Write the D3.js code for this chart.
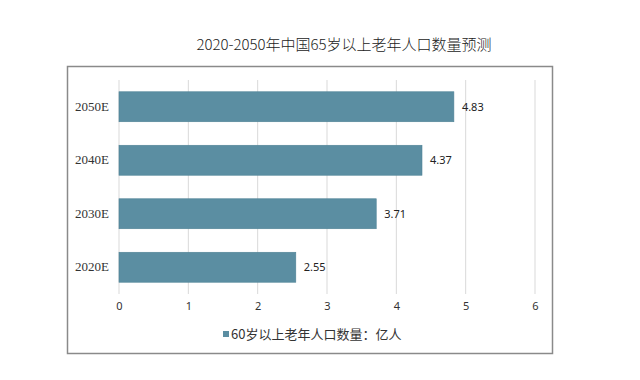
<!DOCTYPE html>
<html>
<head>
<meta charset="utf-8">
<script src="https://cdn.jsdelivr.net/npm/d3@7/dist/d3.min.js"></script>
<style>
  body { margin: 0; background: #fff; }
  svg { display: block; }
</style>
</head>
<body>
<script>
var categories = ['2050E', '2040E', '2030E', '2020E'];
var values = [4.83, 4.37, 3.71, 2.55];
var xTicks = [0, 1, 2, 3, 4, 5, 6];
var titleText = '2020-2050年中国65岁以上老年人口数量预测';
var legendText = '60岁以上老年人口数量：亿人';

var w = 640, h = 380;
var barColor = '#5b8ea2';

var svg = d3.select('body')
  .append('svg')
  .attr('width', w)
  .attr('height', h);

// outer frame
svg.append('rect')
  .attr('x', 67.5)
  .attr('y', 66.5)
  .attr('width', 485)
  .attr('height', 287)
  .attr('fill', 'none')
  .attr('stroke', '#8a8a8a')
  .attr('stroke-width', 1.5);

svg.append('text')
  .attr('x', 344)
  .attr('y', 50)
  .attr('text-anchor', 'middle')
  .attr('font-family', '"Noto Sans CJK SC", sans-serif')
  .attr('font-size', '15px')
  .attr('font-weight', 300)
  .attr('fill', '#222')
  .text(titleText);

var x = d3.scaleLinear().domain([0, 6]).range([119, 535]);
var y = d3.scaleBand().domain(categories).range([80, 294]).paddingInner(0.44).paddingOuter(0.22);

// vertical gridlines
svg.selectAll('line.grid').data(xTicks)
  .enter()
  .append('line')
  .attr('class', 'grid')
  .attr('x1', function (d) { return x(d); })
  .attr('x2', function (d) { return x(d); })
  .attr('y1', 80)
  .attr('y2', 294)
  .attr('stroke', '#d9d9d9')
  .attr('stroke-width', 1);

svg.selectAll('rect.bar').data(values)
  .enter()
  .append('rect')
  .attr('class', 'bar')
  .attr('x', x(0))
  .attr('y', function (d, i) { return y(categories[i]); })
  .attr('width', function (d) { return x(d) - x(0); })
  .attr('height', y.bandwidth())
  .attr('fill', barColor)
  .attr('stroke', '#4f8296')
  .attr('stroke-width', 0.6);

// value labels
svg.selectAll('text.val').data(values)
  .enter()
  .append('text')
  .attr('class', 'val')
  .attr('x', function (d) { return x(d) + 8; })
  .attr('y', function (d, i) { return y(categories[i]) + y.bandwidth() / 2 + 4; })
  .attr('font-family', '"Noto Sans", sans-serif')
  .attr('font-size', '11px')
  .attr('fill', '#222')
  .text(function (d) { return d.toFixed(2); });

// category axis
var yAxis = svg.append('g')
  .attr('transform', 'translate(' + (x(0) - 10) + ',0)')
  .call(d3.axisLeft(y).tickSize(0).tickPadding(0));
yAxis.select('.domain').remove();
yAxis.selectAll('text')
  .attr('font-family', '"Liberation Serif", "DejaVu Serif", serif')
  .attr('font-size', '13px')
  .attr('fill', '#333');

// value axis
var xAxis = svg.append('g')
  .attr('transform', 'translate(0,' + 302 + ')')
  .call(d3.axisBottom(x).tickValues(xTicks).tickSize(0).tickPadding(0).tickFormat(d3.format('d')));
xAxis.select('.domain').remove();
xAxis.selectAll('text')
  .attr('font-family', '"Noto Sans", sans-serif')
  .attr('font-size', '11px')
  .attr('fill', '#333');

// legend
svg.append('rect')
  .attr('x', 223)
  .attr('y', 331)
  .attr('width', 6)
  .attr('height', 6)
  .attr('fill', barColor);
svg.append('text')
  .attr('x', 231)
  .attr('y', 339)
  .attr('font-family', '"Noto Sans CJK SC", sans-serif')
  .attr('font-size', '13px')
  .attr('fill', '#333')
  .text(legendText);
</script>
</body>
</html>
